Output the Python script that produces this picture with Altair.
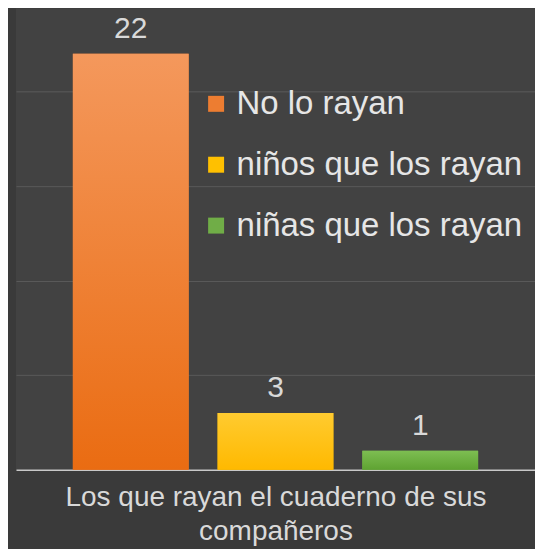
import altair as alt
import pandas as pd

series = ["No lo rayan", "niños que los rayan", "niñas que los rayan"]
values = [22, 3, 1]
colors = ["#ED7D31", "#FFC000", "#70AD47"]
grad_top = ["#F4985C", "#FFCB30", "#7DBE52"]
grad_bottom = ["#EA6C12", "#FFB900", "#5FA332"]
y_ticks = [5, 10, 15, 20]
x_title = ["Los que rayan el cuaderno de sus", "compañeros"]

df = pd.DataFrame({"serie": series, "valor": values})

FONT = "Liberation Sans"
TXT = "#d9d9d9"

x = alt.X(
    "serie:N",
    sort=series,
    scale=alt.Scale(paddingInner=0.2, paddingOuter=0.393),
    axis=alt.Axis(
        title=x_title, labels=False, ticks=False, domain=True,
        domainColor="#c8c8c8", domainWidth=1.5, grid=False,
        titleFontSize=28, titleColor=TXT, titleFont=FONT,
        titleFontWeight="normal", titlePadding=14, titleLineHeight=34,
    ),
)
y = alt.Y(
    "valor:Q",
    scale=alt.Scale(domain=[0, 24.4], nice=False, zero=True),
    axis=alt.Axis(
        title=None, labels=False, ticks=False, domain=False,
        values=y_ticks, grid=True, gridColor="#5a5a5a", gridWidth=1,
    ),
)

base = alt.Chart(df)

bars = base.mark_bar().encode(
    x=x,
    y=y,
    color=alt.Color(
        "serie:N",
        sort=series,
        scale=alt.Scale(domain=series, range=colors),
        legend=alt.Legend(
            title=None, orient="none", legendX=184, legendY=79,
            symbolType="square", symbolSize=256, symbolStrokeWidth=0,
            labelFontSize=33, labelColor="#e6e6e6", labelFont=FONT,
            rowPadding=27, labelOffset=4, labelLimit=400,
        ),
    ),
)

grad_layers = []
for s, t, b in zip(series, grad_top, grad_bottom):
    grad_layers.append(
        base.transform_filter(alt.datum.serie == s)
        .mark_bar(
            color=alt.Gradient(
                gradient="linear",
                stops=[alt.GradientStop(color=t, offset=0),
                       alt.GradientStop(color=b, offset=1)],
                x1=0, x2=0, y1=0, y2=1,
            )
        )
        .encode(x=x, y=y)
    )

labels = base.mark_text(
    dy=-16, baseline="alphabetic", fontSize=30, color=TXT, font=FONT
).encode(x=x, y=y, text="valor:Q")

chart = (
    alt.layer(bars, *grad_layers, labels)
    .properties(
        width=520, height=462,
        autosize=alt.AutoSizeParams(type="none"),
        padding={"left": 8, "top": 0, "right": 0, "bottom": 79},
        background="#3a3a3a",
    )
    .configure_view(stroke=None, fill="#424242")
)

chart.save("out.html", embed_options={"renderer": "svg", "actions": False})
